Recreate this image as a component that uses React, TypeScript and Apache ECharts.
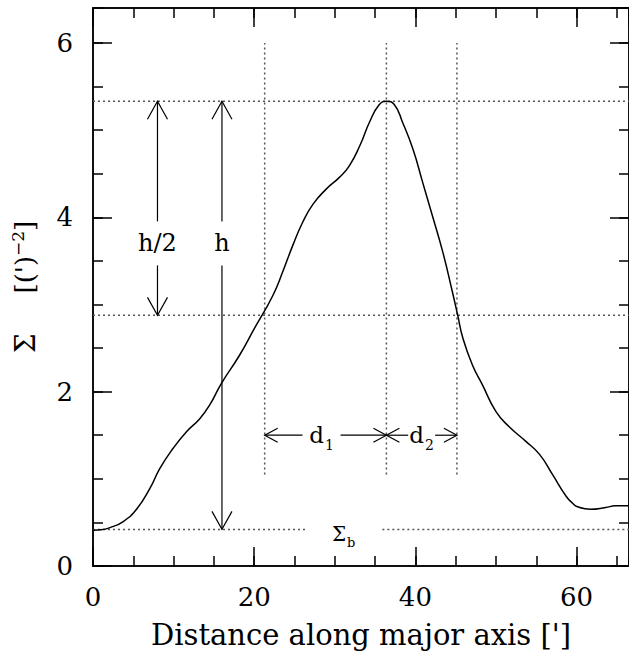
import React, { useEffect, useRef } from "react";
import * as echarts from "echarts";

// ---- data ----
const profileX = [0, 1, 2.1, 3.75, 5.4, 7.06, 8.3, 9.94, 11.6, 13.25, 14.5, 15.9, 18.2, 20.06, 22.3, 23.6, 24.8, 26.0, 27.3, 28.9, 30.6, 31.8, 33.1, 34.3, 35.5, 36.4, 37.4, 38.4, 39.7, 40.9, 42.1, 43.4, 44.6, 45.25, 45.9, 47.1, 48.3, 50.0, 51.6, 53.7, 55.4, 57.0, 58.7, 59.5, 60.1, 61.7, 63.6, 64.8, 66.5];
const profileY = [0.41, 0.415, 0.44, 0.51, 0.65, 0.89, 1.12, 1.35, 1.54, 1.69, 1.85, 2.09, 2.42, 2.73, 3.1, 3.39, 3.68, 3.94, 4.15, 4.32, 4.46, 4.59, 4.82, 5.09, 5.29, 5.33, 5.29, 5.09, 4.78, 4.4, 4.02, 3.6, 3.14, 2.875, 2.61, 2.3, 2.08, 1.77, 1.6, 1.43, 1.28, 1.05, 0.8, 0.72, 0.68, 0.65, 0.67, 0.69, 0.69];

const peakLevel = 5.33;
const halfLevel = 2.875;
const bgLevel = 0.42;
const markerX = [21.3, 36.4, 45.15];
const markerYRange = [1.05, 6.0];
const bgSegments = [[0, 26.6], [35.9, 66.5]];

const xRange = [0, 66.5];
const yRange = [0, 6.4];
const xMajor = 20;
const xMinor = 5;
const yMajor = 2;
const yMinor = 0.5;

const vArrowX = [8, 16];
const vArrowBottom = [halfLevel, bgLevel];
const vArrowLabels = ["h/2", "h"];
const vArrowLabelY = 3.7;

const hArrowStart = [21.3, 36.4];
const hArrowEnd = [36.4, 45.15];
const hArrowY = 1.5;
const hArrowSub = ["1", "2"];

const bgLabelPos = [31.1, 0.37];

const xTitle = "Distance along major axis [']";

// ---- styles ----
const FONT = "'DejaVu Serif', 'Liberation Serif', serif";
const black = "#000";
const frame = { color: black, width: 1.5 };
const dotted = { color: "#555", width: 1.5, type: [2, 3] as any };
const hGap = [19, 13.5];
const hLabelShift = [-4, 0];

function xAx(position: string, interval: number, len: number, labels: boolean, extra: any = {}) {
  return {
    type: "value",
    position,
    min: xRange[0],
    max: xRange[1],
    interval,
    axisLine: { show: true, onZero: false, lineStyle: frame },
    axisTick: { show: true, inside: true, length: len, lineStyle: frame },
    axisLabel: labels
      ? {
          show: true,
          margin: 18,
          showMaxLabel: false,
          color: black,
          fontFamily: FONT,
          fontSize: 26,
          formatter: (v: number) => (Math.abs(v % xMajor) < 1e-9 ? String(v) : ""),
        }
      : { show: false },
    splitLine: { show: false },
    ...extra,
  };
}

function yAx(position: string, interval: number, len: number, labels: boolean, extra: any = {}) {
  return {
    type: "value",
    position,
    min: yRange[0],
    max: yRange[1],
    interval,
    axisLine: { show: true, onZero: false, lineStyle: frame },
    axisTick: { show: true, inside: true, length: len, lineStyle: frame },
    axisLabel: labels
      ? {
          show: true,
          margin: 20,
          showMaxLabel: false,
          color: black,
          fontFamily: FONT,
          fontSize: 26,
          formatter: (v: number) => (Math.abs(v % yMajor) < 1e-9 ? String(v) : ""),
        }
      : { show: false },
    splitLine: { show: false },
    ...extra,
  };
}

function dotLine(points: number[][]) {
  return {
    type: "line",
    data: points,
    symbol: "none",
    silent: true,
    lineStyle: dotted,
    z: 1,
  };
}

export default function App() {
  const ref = useRef<HTMLDivElement>(null);
  useEffect(() => {
    if (!ref.current) return;
    const chart = echarts.init(ref.current, undefined, { renderer: "svg" });

    const dotted_series: any[] = [
      dotLine([[xRange[0], peakLevel], [xRange[1], peakLevel]]),
      dotLine([[xRange[0], halfLevel], [xRange[1], halfLevel]]),
      ...bgSegments.map((s) => dotLine([[s[0], bgLevel], [s[1], bgLevel]])),
      ...markerX.map((x) => dotLine([[x, markerYRange[0]], [x, markerYRange[1]]])),
    ];

    const lineEl = (x1: number, y1: number, x2: number, y2: number) => ({
      type: "line",
      shape: { x1, y1, x2, y2 },
      style: { stroke: black, lineWidth: 1.2 },
    });
    const headEl = (pts: number[][]) => ({
      type: "polyline",
      shape: { points: pts },
      style: { stroke: black, lineWidth: 1.2, fill: null },
    });

    const option: any = {
      animation: false,
      backgroundColor: "#fff",
      grid: { left: 93, top: 8, width: 537, height: 560, containLabel: false },
      xAxis: [
        xAx("bottom", xMajor, 19, true, {
          name: xTitle,
          nameLocation: "middle",
          nameGap: 54,
          nameTextStyle: { color: black, fontFamily: FONT, fontSize: 29 },
        }),
        xAx("bottom", xMinor, 10, false),
        xAx("top", xMajor, 19, false),
        xAx("top", xMinor, 10, false),
      ],
      yAxis: [
        yAx("left", yMajor, 19, true, {
          name: "{g|Σ}{sp|}{t|[(')}{sup|−2}{t|]}",
          nameLocation: "middle",
          nameRotate: 90,
          nameGap: 52,
          nameTextStyle: {
            color: black,
            fontFamily: FONT,
            fontSize: 26,
            rich: {
              g: { fontFamily: FONT, fontSize: 28, color: black, lineHeight: 32 },
              sp: { width: 40, lineHeight: 32 },
              t: { fontFamily: FONT, fontSize: 26, color: black, lineHeight: 32 },
              sup: { fontFamily: FONT, fontSize: 17, color: black, verticalAlign: "top", lineHeight: 20 },
            },
          },
        }),
        yAx("left", yMinor, 10, false),
        yAx("right", yMajor, 19, false),
        yAx("right", yMinor, 10, false),
      ],
      series: [
        ...dotted_series,
        {
          type: "line",
          data: profileX.map((x, i) => [x, profileY[i]]),
          showSymbol: false,
          symbol: "none",
          smooth: 0.5,
          lineStyle: { color: black, width: 1.5 },
          z: 3,
        },
        {
          type: "custom",
          coordinateSystem: "cartesian2d",
          data: vArrowX.map((x, i) => [x, peakLevel, vArrowBottom[i], vArrowLabelY]),
          encode: { x: 0, y: [1, 2] },
          z: 4,
          renderItem: (params: any, api: any) => {
            const i = params.dataIndex;
            const pTop = api.coord([api.value(0), api.value(1)]);
            const pBot = api.coord([api.value(0), api.value(2)]);
            const pLab = api.coord([api.value(0), api.value(3)]);
            const px = pTop[0];
            const gap = 22;
            const L = 18;
            const W = 10;
            return {
              type: "group",
              children: [
                lineEl(px, pTop[1], px, pLab[1] - gap),
                lineEl(px, pLab[1] + gap, px, pBot[1]),
                headEl([[px - W, pTop[1] + L], [px, pTop[1]], [px + W, pTop[1] + L]]),
                headEl([[px - W, pBot[1] - L], [px, pBot[1]], [px + W, pBot[1] - L]]),
                {
                  type: "text",
                  x: px,
                  y: pLab[1],
                  style: {
                    text: vArrowLabels[i],
                    fill: black,
                    fontFamily: FONT,
                    fontSize: 24,
                    align: "center",
                    verticalAlign: "middle",
                  },
                },
              ],
            };
          },
        },
        {
          type: "custom",
          coordinateSystem: "cartesian2d",
          data: hArrowStart.map((x, i) => [x, hArrowEnd[i], hArrowY]),
          encode: { x: [0, 1], y: 2 },
          z: 4,
          renderItem: (params: any, api: any) => {
            const i = params.dataIndex;
            const p0 = api.coord([api.value(0), api.value(2)]);
            const p1 = api.coord([api.value(1), api.value(2)]);
            const y = p0[1];
            const mid = (p0[0] + p1[0]) / 2 + hLabelShift[i];
            const gap = hGap[i];
            const L = 13;
            const W = 7;
            return {
              type: "group",
              children: [
                lineEl(p0[0], y, mid - gap, y),
                lineEl(mid + gap, y, p1[0], y),
                headEl([[p0[0] + L, y - W], [p0[0], y], [p0[0] + L, y + W]]),
                headEl([[p1[0] - L, y - W], [p1[0], y], [p1[0] - L, y + W]]),
                {
                  type: "text",
                  x: mid,
                  y: y,
                  style: {
                    text: "{m|d}{s|" + hArrowSub[i] + "}",
                    fill: black,
                    align: "center",
                    verticalAlign: "middle",
                    rich: {
                      m: { fontFamily: FONT, fontSize: 23, fill: black, color: black, lineHeight: 26 },
                      s: { fontFamily: FONT, fontSize: 14, fill: black, color: black, verticalAlign: "bottom", lineHeight: 14, padding: [0, 0, -4, 1] },
                    },
                  },
                },
              ],
            };
          },
        },
        {
          type: "custom",
          coordinateSystem: "cartesian2d",
          data: [bgLabelPos],
          encode: { x: 0, y: 1 },
          z: 4,
          renderItem: (params: any, api: any) => {
            const p = api.coord([api.value(0), api.value(1)]);
            return {
              type: "text",
              x: p[0],
              y: p[1],
              style: {
                text: "{m|Σ}{s|b}",
                fill: black,
                align: "center",
                verticalAlign: "middle",
                rich: {
                  m: { fontFamily: FONT, fontSize: 20, fill: black, color: black, lineHeight: 22 },
                  s: { fontFamily: FONT, fontSize: 13, fill: black, color: black, verticalAlign: "bottom", lineHeight: 13, padding: [0, 0, -4, 1] },
                },
              },
            };
          },
        },
      ],
    };

    chart.setOption(option);
    return () => chart.dispose();
  }, []);

  return (
    <div
      ref={ref}
      style={{ position: "fixed", left: 0, top: 0, width: 629, height: 654, background: "#fff" }}
    />
  );
}
